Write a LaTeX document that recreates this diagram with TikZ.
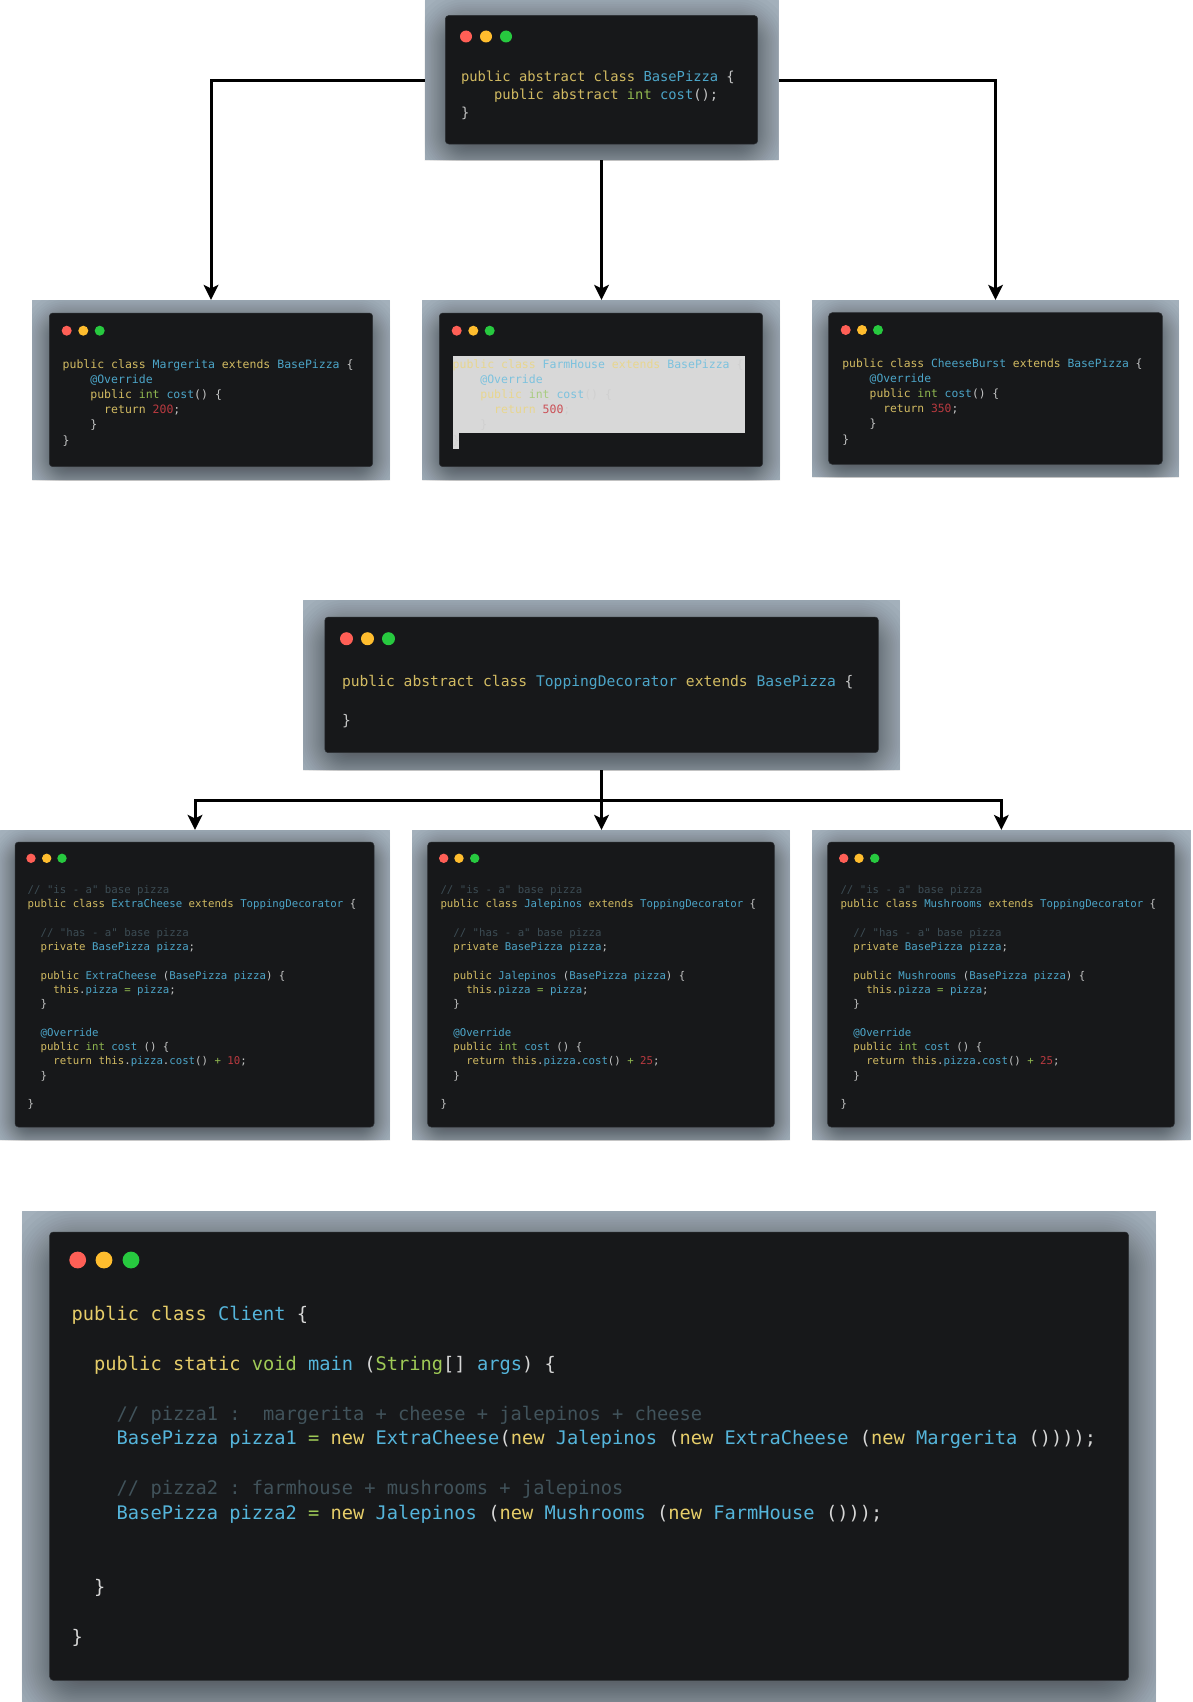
\documentclass[tikz,border=0pt]{standalone}
\usepackage{fontspec}
\usetikzlibrary{arrows.meta}
\newfontfamily\codef{DejaVu Sans Mono}
\definecolor{panelbg}{HTML}{ABB8C3}
\definecolor{cardbg}{HTML}{17181A}
\definecolor{cardrim}{HTML}{2C2F33}
\definecolor{dotr}{HTML}{FF5F56}
\definecolor{doty}{HTML}{FFBD2E}
\definecolor{dotg}{HTML}{27C93F}
\definecolor{selbg}{HTML}{D8D8D8}
\definecolor{plainc}{HTML}{D6D6D6}
\definecolor{kwc}{HTML}{E6CD69}
\definecolor{blc}{HTML}{55B5DB}
\definecolor{grc}{HTML}{9FCA56}
\definecolor{rdc}{HTML}{CD3F45}
\definecolor{cmc}{HTML}{41535B}
\newcommand\hk[1]{\textcolor{kwc}{#1}}
\newcommand\hb[1]{\textcolor{blc}{#1}}
\newcommand\hg[1]{\textcolor{grc}{#1}}
\newcommand\hr[1]{\textcolor{rdc}{#1}}
\newcommand\hc[1]{\textcolor{cmc}{#1}}
\newcommand\hlcolors{%
  \definecolor{plainc}{HTML}{D0D0D0}%
  \definecolor{kwc}{HTML}{E8D68E}%
  \definecolor{blc}{HTML}{7CC2DE}%
  \definecolor{grc}{HTML}{A8CC80}%
  \definecolor{rdc}{HTML}{CB5056}}
\newcommand\dimcolors{%
  \definecolor{plainc}{HTML}{C4C5C5}%
  \definecolor{kwc}{HTML}{D2BB62}%
  \definecolor{blc}{HTML}{4CA5C8}%
  \definecolor{grc}{HTML}{90B850}%
  \definecolor{rdc}{HTML}{BA3A40}%
  \definecolor{cmc}{HTML}{3C4C54}}
\newcount\lnum
% code block settings: x, first baseline, pitch, font size
\newcommand\codeset[4]{\def\cx{#1}\def\cy{#2}\def\cp{#3}\def\cfs{#4}}
% \codeln{line index}{indent in chars}{text}
\newcommand\codeln[3]{%
  \global\advance\lnum by 1
  \pgfmathsetmacro\lx{\cx+#2*0.602*\cfs}%
  \pgfmathsetmacro\ly{\cy+#1*\cp}%
  \node[codeline,font=\codef\fontsize{\cfs}{\cfs}\selectfont\frenchspacing] (line\the\lnum) at (\lx,\ly) {#3};}
% \codepanel{name}{px0}{py0}{px1}{py1}{cx0}{cy0}{cx1}{cy1}{dot r}{dot x1}{dot x2}{dot x3}{dot y}
\newcommand\codepanel[9]{%
  \def\pn{#1}\def\pa{#2}\def\pb{#3}\def\pc{#4}\def\pd{#5}\def\ca{#6}\def\cb{#7}\def\cc{#8}\def\cd{#9}%
  \codepanelrest}
\newcommand\codepanelrest[5]{%
  \pgfmathsetmacro\pw{\pc-\pa}\pgfmathsetmacro\ph{\pd-\pb}%
  \pgfmathsetmacro\cw{\cc-\ca}\pgfmathsetmacro\ch{\cd-\cb}%
  \pgfmathsetmacro\sig{1.0*(\ca-\pa)}\pgfmathsetmacro\off{0.42*(\ca-\pa)}%
  \node[panelbox,minimum width=\pw pt,minimum height=\ph pt] (\pn) at (\pa,\pb) {};
  \begin{scope}
    \clip (\pn.north west) rectangle (\pn.south east);
    \foreach \i in {0,...,39}{
      \pgfmathsetmacro\pp{(\i+0.5)/40}
      \pgfmathsetmacro\dd{\sig*ln(\pp/(1-\pp))/1.7}
      \pgfmathsetmacro\rr{max(\dd,0)+\sig}
      \fill[black,opacity=0.0198,rounded corners=\rr pt]
        (\ca-\dd,\cb-\dd+\off) rectangle (\cc+\dd,\cd+\dd+\off);
    }
  \end{scope}
  \node[cardbox,minimum width=\cw pt,minimum height=\ch pt] (\pn-card) at (\ca,\cb) {};
  \node[dotbox,fill=dotr,minimum size=2*#1 pt] (\pn-red) at (#2,#5) {};
  \node[dotbox,fill=doty,minimum size=2*#1 pt] (\pn-yellow) at (#3,#5) {};
  \node[dotbox,fill=dotg,minimum size=2*#1 pt] (\pn-green) at (#4,#5) {};
}
\newcommand\pizzacode[2]{%
  \codeln{0}{0}{\hk{public class} \hb{#1} \hk{extends} \hb{BasePizza} \{}
  \codeln{1}{4}{\hb{@Override}}
  \codeln{2}{4}{\hk{public} \hg{int} \hb{cost}() \{}
  \codeln{3}{6}{\hk{return} \hr{#2};}
  \codeln{4}{4}{\}}
  \codeln{5}{0}{\}}}
\newcommand\deccode[2]{%
  \codeln{0}{0}{\hc{// "is - a" base pizza}}
  \codeln{1}{0}{\hk{public class} \hb{#1} \hk{extends} \hb{ToppingDecorator} \{}
  \codeln{3}{2}{\hc{// "has - a" base pizza}}
  \codeln{4}{2}{\hk{private} \hb{BasePizza} \hb{pizza};}
  \codeln{6}{2}{\hk{public} \hb{#1} (\hb{BasePizza} \hb{pizza}) \{}
  \codeln{7}{4}{\hk{this}.\hb{pizza} \hg{=} \hb{pizza};}
  \codeln{8}{2}{\}}
  \codeln{10}{2}{\hb{@Override}}
  \codeln{11}{2}{\hk{public} \hg{int} \hb{cost} () \{}
  \codeln{12}{4}{\hk{return} \hk{this}.\hb{pizza}.\hb{cost}() \hg{+} \hr{#2};}
  \codeln{13}{2}{\}}
  \codeln{15}{0}{\}}}
\tikzset{
  panelbox/.style={anchor=north west,fill=panelbg,inner sep=0pt,outer sep=0pt,rectangle},
  cardbox/.style={anchor=north west,fill=cardbg,draw=cardrim,line width=0.5pt,rounded corners=3.5pt,inner sep=0pt,outer sep=0pt,rectangle},
  dotbox/.style={circle,anchor=center,inner sep=0pt,outer sep=0pt},
  codeline/.style={anchor=base west,inner sep=0pt,outer sep=0pt,text=plainc},
  link/.style={line width=3pt,black,-{Stealth[length=15pt,width=14.5pt,inset=3.5pt]}},
}
\begin{document}
\begin{tikzpicture}[x=1pt,y=-1pt]
\useasboundingbox (0,0) rectangle (1192,1702);
% BasePizza
\begin{scope}
\dimcolors
\codepanel{basepizza}{424.5}{0}{778.5}{160}{445.3}{15.5}{757.7}{144}{6}{466}{486}{506}{36.5}
\codeset{461}{81.5}{18.2}{13.78}
\codeln{0}{0}{\hk{public abstract class} \hb{BasePizza} \{}
\codeln{1}{4}{\hk{public abstract} \hg{int} \hb{cost}();}
\codeln{2}{0}{\}}
% Margerita
\codepanel{margerita}{32}{300}{390}{480}{49.3}{313}{372.7}{466.7}{5}{66.7}{83.3}{99.7}{330.7}
\codeset{62.7}{368}{15.2}{11.5}
\pizzacode{Margerita}{200}
\end{scope}
% FarmHouse (selected text)
\codepanel{farmhouse}{422}{300}{780}{480}{439.3}{313}{762.7}{466.7}{5}{456.7}{473.3}{489.7}{330.7}
\fill[selbg] (452.7,356) rectangle (745,432.7);
\fill[selbg] (452.7,432.7) rectangle (459,448.7);
\begin{scope}
\hlcolors
\codeset{452.7}{368}{15.2}{11.5}
\pizzacode{FarmHouse}{500}
\end{scope}
\begin{scope}
\dimcolors
% CheeseBurst
\codepanel{cheeseburst}{812}{300}{1179}{477.3}{828.7}{312.7}{1162.3}{464.3}{5}{845.7}{862}{878}{330}
\codeset{842.4}{367.5}{15.1}{11.33}
\pizzacode{CheeseBurst}{350}
% ToppingDecorator
\codepanel{topping}{303}{600}{900}{770}{324.8}{617}{878.4}{752.7}{6.5}{346.5}{367.5}{388.5}{638.7}
\codeset{342}{686}{19.8}{14.65}
\codeln{0}{0}{\hk{public abstract class} \hb{ToppingDecorator} \hk{extends} \hb{BasePizza} \{}
\codeln{2}{0}{\}}
% Decorators
\codepanel{extracheese}{0}{830}{390}{1140}{15}{842}{374}{1127}{4.7}{31}{46.7}{62}{858.3}
\codeset{27.7}{893.2}{14.3}{10.7}
\deccode{ExtraCheese}{10}
\codepanel{jalepinos}{412}{830}{790}{1140}{427.7}{842}{774.3}{1127}{4.7}{443.7}{459}{474.7}{858.3}
\codeset{440.5}{893.2}{14.3}{10.7}
\deccode{Jalepinos}{25}
\codepanel{mushrooms}{812}{830}{1190.7}{1140}{827.7}{842}{1174.3}{1127}{4.7}{843.7}{859}{874.7}{858.3}
\codeset{840.5}{893.2}{14.3}{10.7}
\deccode{Mushrooms}{25}
\end{scope}
% Client
\codepanel{client}{21.8}{1211}{1156}{1702}{49.7}{1232}{1128.5}{1680.3}{8.4}{77.7}{104}{131}{1260}
\codeset{71.7}{1320.9}{24.8}{18.7}
\codeln{0}{0}{\hk{public class} \hb{Client} \{}
\codeln{2}{2}{\hk{public static} \hg{void} \hb{main} (\hg{String}[] \hb{args}) \{}
\codeln{4}{4}{\hc{// pizza1 :\ \ margerita + cheese + jalepinos + cheese}}
\codeln{5}{4}{\hb{BasePizza} \hb{pizza1} \hg{=} \hk{new} \hb{ExtraCheese}(\hk{new} \hb{Jalepinos} (\hk{new} \hb{ExtraCheese} (\hk{new} \hb{Margerita} ())));}
\codeln{7}{4}{\hc{// pizza2 : farmhouse + mushrooms + jalepinos}}
\codeln{8}{4}{\hb{BasePizza} \hb{pizza2} \hg{=} \hk{new} \hb{Jalepinos} (\hk{new} \hb{Mushrooms} (\hk{new} \hb{FarmHouse} ()));}
\codeln{11}{2}{\}}
\codeln{13}{0}{\}}
% Connectors
\draw[link] (basepizza.west) -| (margerita.north);
\draw[link] (basepizza.south) -- (basepizza.south |- farmhouse.north);
\draw[link] (basepizza.east) -| (cheeseburst.north);
\coordinate (branch) at (601.5,800.3);
\draw[link] (topping.south) -- (topping.south |- jalepinos.north);
\draw[link] (branch) -| (extracheese.north);
\draw[link] (branch) -| (mushrooms.north);
\end{tikzpicture}
\end{document}
